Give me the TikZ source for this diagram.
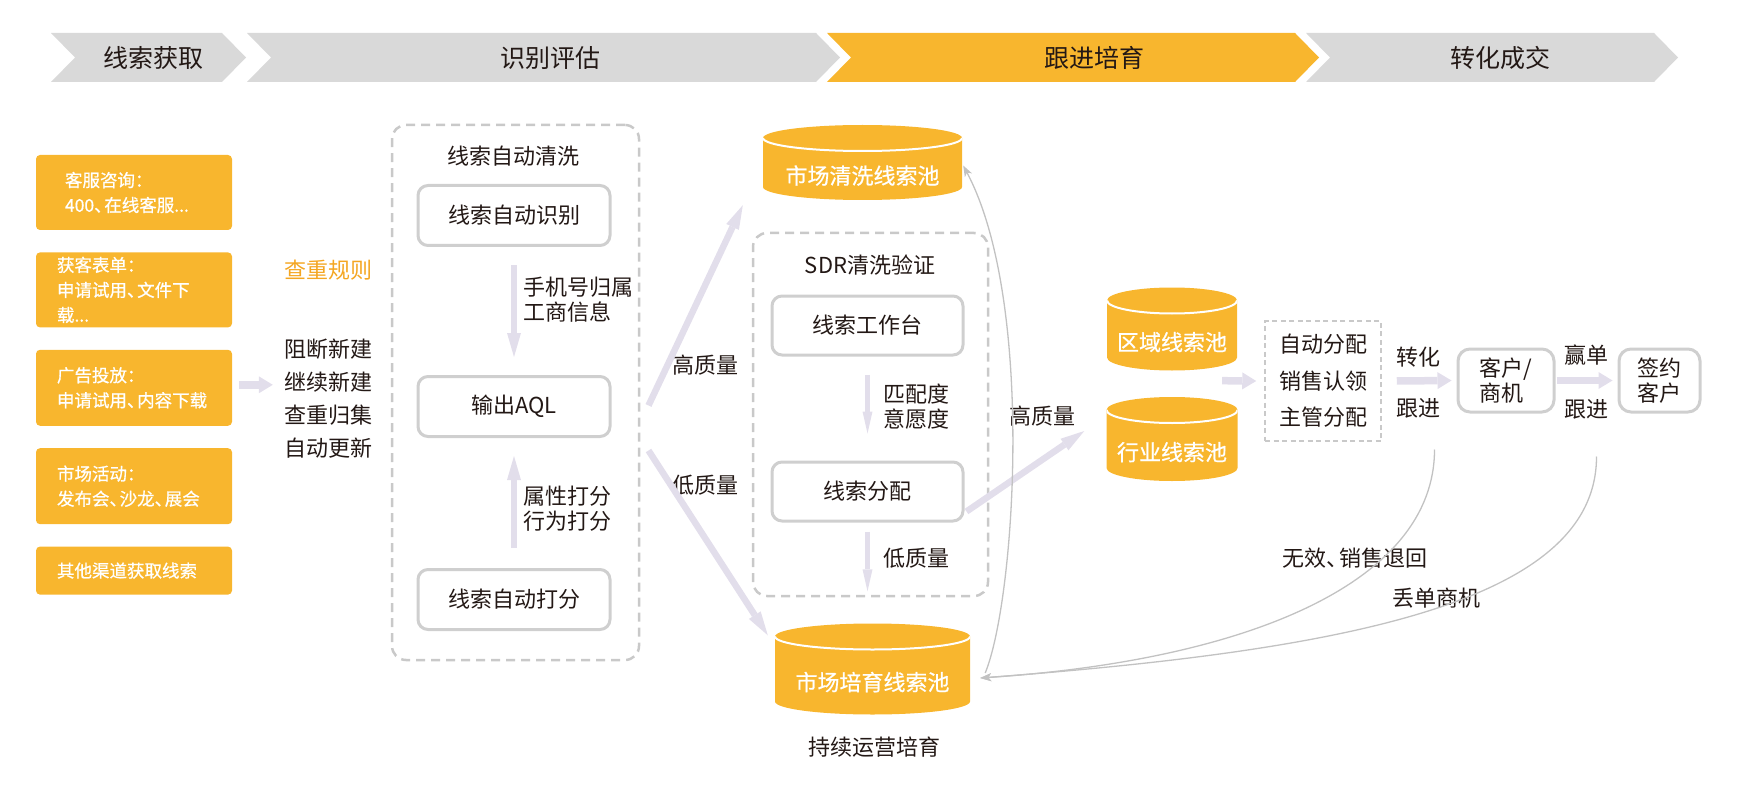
\documentclass[tikz,border=0pt]{standalone}
\usepackage{fontspec}
\setmainfont{Noto Sans CJK SC}
\newfontfamily\medfont[FakeBold=0.7]{Noto Sans CJK SC}
\newcommand\dunhao{、\kern-.42em}
\usepackage{xcolor}
\definecolor{cYellow}{HTML}{F8B62E}
\definecolor{cBanner}{HTML}{D9D9D9}
\definecolor{cLav}{HTML}{E2DEEB}
\definecolor{cLine}{HTML}{CFCFCF}
\definecolor{cDash}{HTML}{C9C9C9}
\definecolor{cCurve}{HTML}{C2C2C2}
\definecolor{cOrange}{HTML}{F4A622}
\definecolor{cText}{HTML}{231815}
\usepackage{tikz}
\usetikzlibrary{positioning,arrows.meta,calc}
\tikzset{
  node-txt/.style={inner sep=0pt,text=cText,align=left,
    font=\fontsize{22}{25}\selectfont},
  stage-txt/.style={inner sep=0pt,text=cText,font=\fontsize{25}{30}\selectfont},
  node-src/.style={fill=cYellow,rounded corners=4pt,minimum width=196pt,
    text width=154pt,inner xsep=21pt,inner ysep=0pt,align=left,text=white,
    font=\medfont\fontsize{17.5}{25}\selectfont},
  node-box/.style={draw=cLine,line width=3pt,rounded corners=10pt,fill=white,
    minimum width=192pt,minimum height=60pt,align=center,text=cText,
    font=\fontsize{22}{25}\selectfont},
  % 圆柱：路径图里画黄色柱体 + 顶面白色弧线，文字下移到柱身
  node-pool/.style={inner sep=0pt,text=white,text height=43pt,text depth=0pt,
    font=\medfont\fontsize{22}{25}\selectfont,
    path picture={
      \fill[cYellow] let \p1=(path picture bounding box.north west),
        \p2=(path picture bounding box.south east),\n1={(\x2-\x1)/2} in
        (\x1,\y1-13pt) -- (\x1,\y2+13pt)
        arc[start angle=180,end angle=360,x radius=\n1,y radius=13pt]
        -- (\x2,\y1-13pt)
        arc[start angle=0,end angle=180,x radius=\n1,y radius=13pt] -- cycle;
      \draw[white,line width=2pt] let \p1=(path picture bounding box.north west),
        \p2=(path picture bounding box.south east),\n1={(\x2-\x1)/2} in
        (\x1,\y1-13pt)
        arc[start angle=180,end angle=360,x radius=\n1,y radius=13pt];
    }},
  group-box/.style={draw=cDash,line width=2.5pt,dash pattern=on 9pt off 6pt,
    rounded corners=14pt},
  group-thin/.style={draw=cDash,line width=1.5pt,dash pattern=on 5pt off 3.5pt,
    align=center,text=cText},
  arrow-flow/.style={draw=cLav,line width=6.5pt,
    -{Triangle[length=24pt,width=14pt,line width=0pt]}},
  arrow-flow-t/.style={draw=cLav,line width=5pt,
    -{Triangle[length=22pt,width=10pt,line width=0pt]}},
  arrow-flow-s/.style={draw=cLav,line width=7.5pt,
    -{Triangle[length=14pt,width=17pt,line width=0pt]}},
  arrow-back/.style={draw=cCurve,line width=1.3pt,
    -{Stealth[length=11pt,width=8pt,inset=3pt]}},
}

\begin{document}
\begin{tikzpicture}[x=1pt,y=-1pt,node distance=22pt]
  \useasboundingbox (0,0) rectangle (1744,794);
  % 阶段条
  \foreach \L/\R/\c in {51/222/cBanner,247/816/cBanner,827/1295/cYellow,1306/1654/cBanner}
    \fill[\c] (\L,33) -- (\R,33) -- (\R+24,57.5) -- (\R,82) -- (\L,82) -- (\L+24,57.5) -- cycle;
  \foreach \x/\t/\n in {153/线索获取/stgGet,550/识别评估/stgEval,1094/跟进培育/stgNurt,1500/转化成交/stgDeal}
    \node[stage-txt] (\n) at (\x,58) {\t};

  % 线索来源
  \node[node-src,minimum height=75pt,text width=138pt,inner xsep=29pt] (srcSvc) at (134,192.5) {客服咨询：\\400\dunhao 在线客服...};
  \node[node-src,minimum height=75pt,below=of srcSvc] (srcForm) {获客表单：\\申请试用\dunhao 文件下\\载...};
  \node[node-src,minimum height=76pt,below=of srcForm] (srcAd) {广告投放：\\申请试用\dunhao 内容下载};
  \node[node-src,minimum height=76pt,below=of srcAd] (srcEvt) {市场活动：\\发布会\dunhao 沙龙\dunhao 展会};
  \node[node-src,minimum height=48pt,below=of srcEvt] (srcOther) {其他渠道获取线索};

  \node[node-txt,text=cOrange] (ruleTtl) at (328,270) {查重规则};
  \node[node-txt,font=\fontsize{22}{33}\selectfont] (rules) at (328,398.5) {阻断新建\\继续新建\\查重归集\\自动更新};

  % 识别评估
  \node[group-box,minimum width=247pt,minimum height=535pt] (grpClean) at (515.5,392.5) {};
  \node[node-txt] (ttlClean) at (513,156) {线索自动清洗};
  \node[node-box] (boxIdent) at (514,215.5) {线索自动识别};
  \node[node-box] (boxAQL) at (514,406.5) {输出AQL};
  \node[node-box] (boxScore) at (514,599.5) {线索自动打分};
  \node[node-txt,anchor=west] (lblPhone) at (523,299.5) {手机号归属\\工商信息};
  \node[node-txt,anchor=west] (lblAttr) at (523,508.5) {属性打分\\行为打分};
  \node[node-txt] (lblHigh) at (705,365) {高质量};
  \node[node-txt] (lblLow) at (705,485) {低质量};

  % 跟进培育
  \node[node-pool,minimum width=199pt,minimum height=75pt] (poolClean) at (862.5,162.5) {市场清洗线索池};
  \node[node-pool,minimum width=195pt,minimum height=91pt] (poolNurture) at (872.5,669) {市场培育线索池};
  \node[node-txt] (lblKeep) at (874,747) {持续运营培育};
  \node[group-box,minimum width=235pt,minimum height=363pt] (grpSdr) at (870.5,414.5) {};
  \node[node-txt] (ttlSdr) at (870,265) {SDR清洗验证};
  \node[node-box,minimum width=191pt,minimum height=59pt] (boxDesk) at (867.5,325.5) {线索工作台};
  \node[node-box,minimum width=191pt,minimum height=59pt] (boxAssign) at (867.5,491.5) {线索分配};
  \node[node-txt,anchor=west] (lblMatch) at (883,406.5) {匹配度\\意愿度};
  \node[node-txt,anchor=west] (lblLow2) at (883,558) {低质量};
  \node[node-txt] (lblHigh2) at (1042,416) {高质量};
  \node[node-pool,minimum width=130pt,minimum height=83pt] (poolRegion) at (1172,329) {区域线索池};
  \node[node-pool,minimum width=131pt,minimum height=84pt] (poolIndustry) at (1172,439) {行业线索池};

  % 转化成交
  \node[group-thin,minimum width=116pt,minimum height=120pt,font=\fontsize{22}{36.5}\selectfont] (dispatch) at (1323,381) {自动分配\\销售认领\\主管分配};
  \node[node-txt] (lblConv) at (1418,357) {转化};
  \node[node-txt] (lblConvF) at (1418,408) {跟进};
  \node[node-box,minimum width=96pt,minimum height=63pt,rounded corners=12pt,align=left] (custBox) at (1506,380.5) {客户/\\商机};
  \node[node-txt] (lblWin) at (1586,355) {赢单};
  \node[node-txt] (lblWinF) at (1586,409) {跟进};
  \node[node-box,minimum width=81pt,minimum height=63pt,rounded corners=12pt] (signBox) at (1659.5,380.5) {签约\\客户};
  \node[node-txt] (lblInvalid) at (1355,558) {无效\dunhao 销售退回};
  \node[node-txt] (lblLost) at (1436,598) {丢单商机};

  \draw[arrow-flow-s] ($(srcAd.east)+(7,-3)$) -- ($(srcAd.east -| rules.west)+(-11,-3)$);
  \draw[arrow-flow] ($(boxIdent.south)+(0,18)$) -- ($(boxAQL.north)+(0,-18)$);
  \draw[arrow-flow] ($(boxScore.north)+(0,-20)$) -- ($(boxAQL.south)+(0,18)$);
  \draw[arrow-flow] ($(boxAQL.east)+(37,-1)$) -- ($(poolClean.south west)+(-20,5)$);
  \draw[arrow-flow] ($(boxAQL.east)+(37,44)$) -- ($(poolNurture.north west)+(-7,12)$);
  \draw[arrow-flow-t] ($(boxDesk.south)+(0,18)$) -- ($(boxAssign.north)+(0,-27)$);
  \draw[arrow-flow-t] ($(boxAssign.south)+(0,9)$) -- ($(boxAssign.south |- poolNurture.north)+(0,-32)$);
  \draw[arrow-flow] ($(boxAssign.east)+(2,20)$) -- ($(poolIndustry.west)+(-22,-8)$);
  \draw[arrow-flow-s] ($(poolRegion.south east)+(-15,10)$) -- ($(dispatch.west)+(-8,0)$);
  \draw[arrow-flow-s] ($(dispatch.east)+(15,0)$) -- ($(custBox.west)+(-5,0)$);
  \draw[arrow-flow-s] ($(custBox.east)+(1,0)$) -- ($(signBox.west)+(-5,0)$);
  \draw[arrow-back] ($(poolNurture.east)+(15,4)$) .. controls +(30,-73) and +(72,135) .. ($(poolClean.east)+(1,3)$);
  \draw[arrow-back] ($(custBox.south west)+(-22,36)$) .. controls +(0,132) and +(270,-18) .. ($(poolNurture.east)+(10,9)$);
  \draw[arrow-back] ($(signBox.south west)+(-21,43)$) .. controls +(0,145) and +(370,-28) .. ($(poolNurture.east)+(10,9)$);
\end{tikzpicture}
\end{document}
